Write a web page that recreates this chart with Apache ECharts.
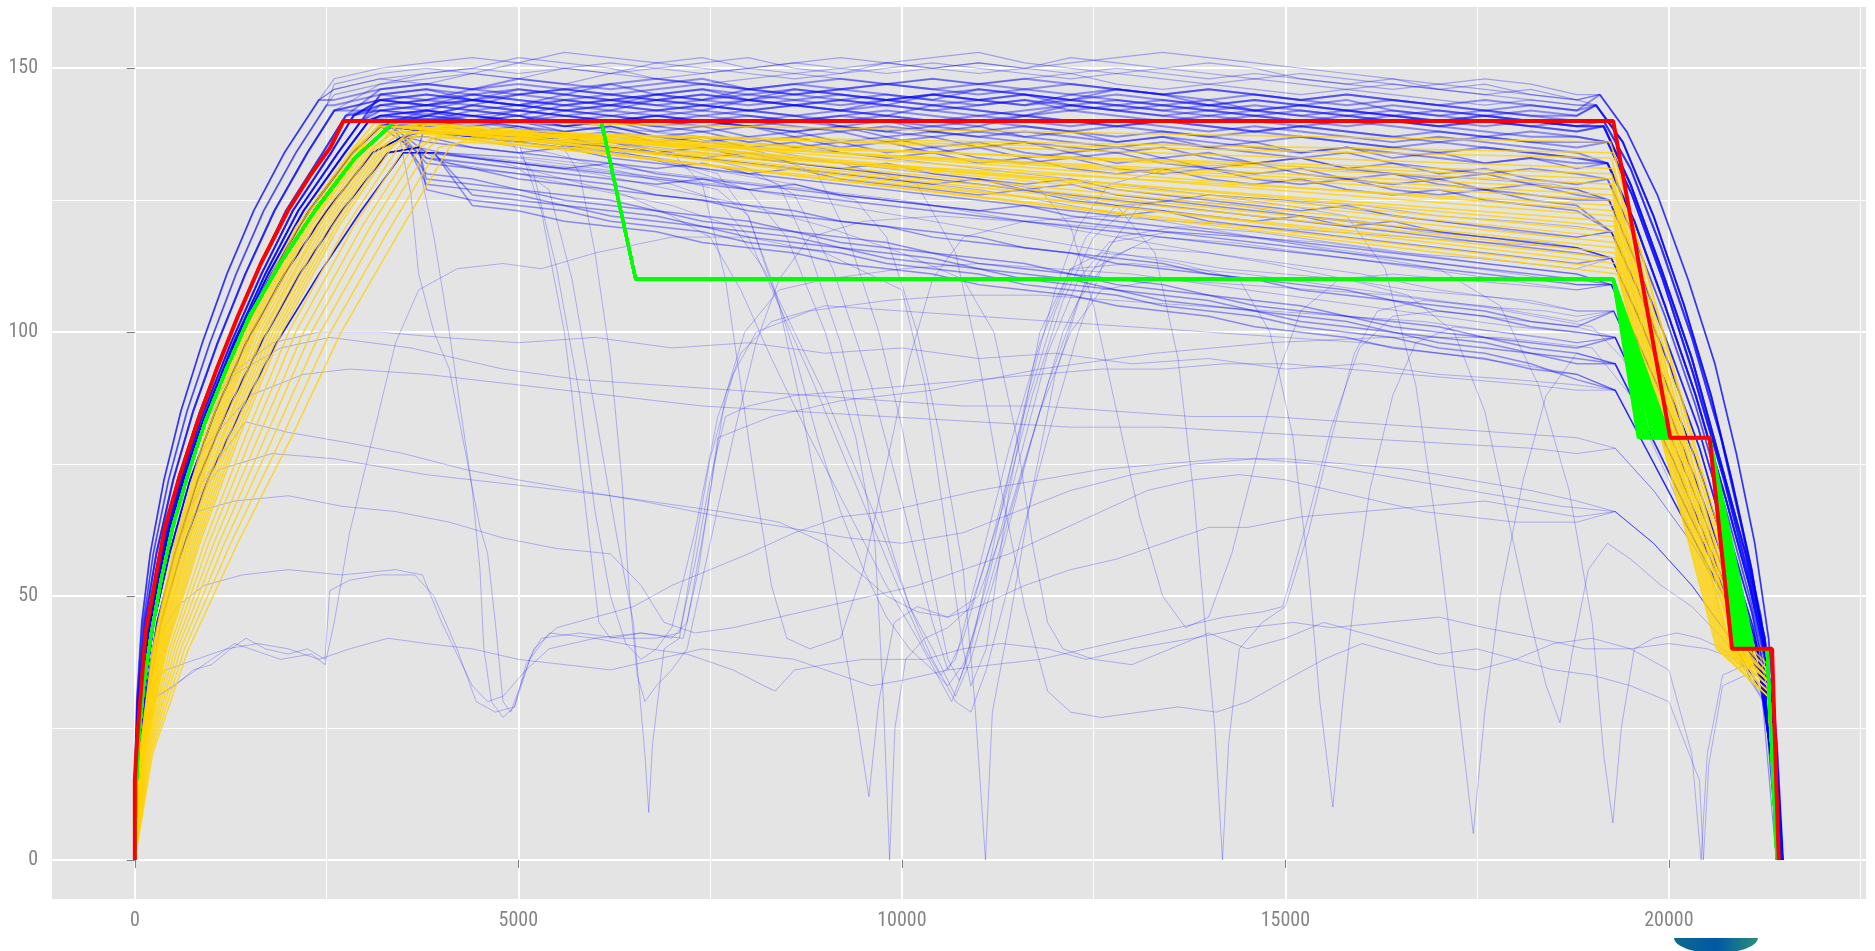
<!DOCTYPE html>
<html><head><meta charset="utf-8">
<script src="https://cdn.jsdelivr.net/npm/echarts@6/dist/echarts.min.js"></script>
<style>html,body{margin:0;padding:0;background:#fff}#c{width:1875px;height:951px}</style>
</head><body><div id="c"></div><script>
// ---- axis ticks ----
const xTicks = [0, 5000, 10000, 15000, 20000];
const xMinor = [2500, 7500, 12500, 17500, 22500];
const yTicks = [0, 50, 100, 150];
const yMinor = [25, 75, 125];

// ---- red reference profile ----
const redX = [0,0,30,140,266,391,591,817,1067,1343,1643,1994,2300,2550,2720,19274,20017,20531,20823,21345,21432];
const redY = [0,15,23,43,53,63,73,83,93,103,113,123,130,135,140,140,80,80,40,40,0];

// ---- green profiles ----
const greenRise = [[0,0],[15,13],[50,23],[115,33],[215,43],[341,53],[491,63],[691,73],[917,83],[1192,93],[1493,103],[1894,113],[2345,123],[2871,133],[3397,140],[6080,140],[6530,110],[19274,110]];
const greenA = [19600,19635,19672,19710,19745,19790,19830,19868,19905,19942,19980,20013];
const greenB = [20823,20850,20875,20900,20925,20950,20978,21005,21030,21055,21080,21108];
const greenTail = [[20531,80],[21280,40],[21410,0]];

// ---- yellow profiles ----
const yellowRiseY = [20,40,60,80,100,120,135];
const yellowRiseX = [
 [60,230,520,900,1400,2100,2850],[67,249,553,946,1452,2156,2900],[74,268,586,991,1503,2211,2950],
 [80,286,618,1037,1555,2267,3000],[89,310,659,1094,1619,2336,3063],[97,333,700,1151,1684,2406,3125],
 [108,362,750,1219,1761,2489,3200],[118,390,799,1288,1839,2573,3275],[128,418,848,1356,1916,2656,3350],
 [140,451,905,1436,2006,2753,3438],[152,484,963,1516,2097,2851,3525],[165,521,1028,1607,2200,2962,3625],
 [179,559,1094,1698,2303,3073,3725],[194,601,1168,1801,2419,3198,3838],[211,648,1250,1915,2548,3337,3963],
 [230,700,1340,2040,2690,3490,4100],
 [63,239,536,923,1426,2128,2875],[70,258,569,968,1477,2183,2925],[77,277,602,1014,1529,2239,2975],
 [84,296,635,1060,1581,2295,3025],[94,324,684,1128,1658,2378,3100],[103,348,725,1185,1723,2448,3163],
 [113,376,774,1253,1800,2531,3238],[123,404,823,1322,1877,2614,3313]];
const yellowPeak = [[3150,140],[3200,139],[3250,139],[3300,138],[3360,140],[3420,139],[3500,138],[3580,137],[3650,139],[3740,138],[3830,140],[3930,137],[4030,138],[4140,139],[4260,136],[4400,137],
 [3175,139],[3225,140],[3275,138],[3330,139],[3400,138],[3460,140],[3540,139],[3610,138]];
const yellowKnee = [[19280,122],[19260,128],[19300,115],[19250,133],[19290,119],[19270,125],[19320,112],[19250,130],[19300,117],[19280,121],[19240,136],[19310,114],[19270,126],[19290,118],[19280,124],[19330,111],
 [19270,131],[19290,120],[19260,127],[19300,116],[19280,134],[19270,123],[19310,113],[19260,129]];
const yellowX40 = [20820,20930,20700,21020,20780,20880,20620,20990,20740,20800,21080,20680,20900,20760,20850,20640, 20960,20800,20900,20720,21040,20860,20660,20940];
const yellowTailY = [34,35,32,36,33,34,31,35,33,34,37,32,35,33,34,31, 35,33,34,32,36,34,31,35];

// ---- blue: rise shapes (x at each speed level) and fall shapes ----
const riseLevels = [16,30,45,58,72,85,98,111,123,134];
const riseX = [
 [0,25,90,200,380,600,880,1200,1550,1950],
 [1,35,110,240,440,680,980,1320,1680,2100],
 [2,45,130,280,500,760,1080,1440,1820,2250],
 [3,60,155,320,560,850,1200,1580,1970,2450],
 [6,68,170,345,595,900,1255,1650,2060,2560],
 [9,74,185,365,620,930,1290,1700,2130,2650],
 [12,80,198,382,640,950,1310,1740,2200,2740],
 [16,85,210,398,655,960,1330,1780,2270,2840],
 [22,92,228,412,668,968,1342,1810,2340,2930],
 [30,105,250,450,720,1050,1450,1950,2500,3100],
 [40,130,290,520,820,1200,1650,2150,2700,3300],
 [50,160,340,600,950,1380,1850,2400,2950,3500]];
const riseEnd = [[2400,144],[2500,143],[2600,142],[2750,141],[2850,141],[2950,140],[3050,140],[3200,139],[3350,139],[3500,137],[3700,135],[3900,134]];
const blueFall = [
 [[19100,145],[19450,138],[19850,126],[20250,110],[20600,94],[20880,77],[21120,60],[21300,42],[21410,22],[21490,0]],
 [[19050,143],[19400,136],[19800,122],[20200,105],[20550,88],[20820,72],[21080,55],[21270,38],[21400,18],[21480,0]],
 [[19150,140],[19500,131],[19900,116],[20300,99],[20680,80],[20950,63],[21200,46],[21350,28],[21440,10],[21475,0]],
 [[19150,139],[19500,128],[19900,112],[20300,95],[20700,74],[21000,58],[21250,42],[21380,25],[21450,8],[21480,0]],
 [[19200,136],[19520,126],[19920,110],[20320,92],[20720,72],[21020,55],[21260,40],[21390,22],[21465,0]],
 [[19200,132],[19550,121],[19950,105],[20350,88],[20750,68],[21050,52],[21280,37],[21400,18],[21470,0]],
 [[19200,129],[19550,118],[19950,103],[20350,86],[20750,66],[21050,50],[21280,36],[21400,18],[21470,0]],
 [[19220,125],[19580,113],[19980,98],[20380,82],[20780,62],[21080,47],[21290,33],[21405,15],[21465,0]],
 [[19250,119],[19600,108],[20000,94],[20400,78],[20800,58],[21100,44],[21300,30],[21410,12],[21460,0]],
 [[19250,114],[19600,103],[20000,89],[20400,74],[20800,56],[21120,42],[21320,27],[21430,0]],
 [[19250,109],[19600,98],[20000,85],[20400,70],[20800,53],[21150,40],[21330,24],[21440,0]],
 [[19280,104],[19630,93],[20030,80],[20430,66],[20830,50],[21170,38],[21340,21],[21435,0]],
 [[19300,99],[19650,88],[20050,76],[20450,62],[20850,48],[21180,36],[21350,18],[21430,0]],
 [[19300,94],[19680,83],[20080,71],[20480,59],[20880,46],[21190,35],[21355,17],[21425,0]],
 [[19300,89],[19700,78],[20100,67],[20500,56],[20900,45],[21200,34],[21360,16],[21420,0]],
 [[19300,78],[19800,70],[20300,60],[20800,48],[21200,36],[21380,16],[21440,0]],
 [[19300,66],[19800,60],[20300,52],[20800,42],[21200,32],[21380,15],[21440,0]]];

// ---- blue: main band trips ----
const bandX = [2600,3200,3800,4400,5000,5600,6200,6800,7400,8000,8600,9200,9800,10400,11000,11600,12200,12800,13400,14000,14600,15200,15800,16400,17000,17600,18200,18800];
const bandRise = [3,1,5,0,4,1,6,2,0,7, 0,1,2,0, 6,5,8,7,9,4,10,6, 7,9,8,11,9,7,10,8, 9,10,11,8,11,9,10,7, 3,4,5,6,2,7,3,8,4,5,6,2];
const bandFall = [3,2,3,1,4,1,4,3,0,5, 0,0,1,1, 6,7,7,7,8,5,8,6, 8,9,9,10,9,9,10,10, 12,13,13,12,14,13,14,11, 3,2,1,4,2,4,0,5,3,1,5,5];
const bandYs = [
 [141,143,144,143,145,144,143,145,144,146,145,144,143,145,144,143,145,144,143,144,142,143,142,141,142,141,140,139],
 [143,145,146,144,146,145,147,145,146,144,145,146,145,144,146,145,144,146,145,143,144,143,144,142,141,142,141,140],
 [140,142,143,142,141,143,142,144,143,142,143,142,144,143,142,141,143,142,141,142,141,140,141,140,139,140,139,138],
 [144,146,147,146,148,147,146,147,148,146,147,148,147,146,147,148,147,146,145,146,145,144,145,144,143,142,143,142],
 [142,144,143,145,144,143,144,143,142,144,143,142,141,143,142,141,142,141,140,141,140,139,140,139,138,137,138,137],
 [145,147,148,149,148,147,149,148,147,148,149,148,147,148,147,148,149,147,146,147,146,145,146,145,144,143,144,143],
 [139,141,142,141,140,142,141,140,141,142,141,140,141,140,139,141,140,139,140,139,138,139,138,137,136,137,136,135],
 [143,144,145,144,145,146,145,144,145,144,146,145,144,145,144,145,144,143,144,143,142,143,142,141,140,141,140,139],
 [146,148,149,150,149,150,151,150,149,150,151,150,149,150,151,150,149,150,149,148,149,148,147,146,147,146,145,144],
 [141,142,141,143,142,141,142,141,140,141,140,141,140,139,140,139,138,139,138,137,138,137,136,135,136,135,134,133],
 [148,150,151,152,151,153,152,151,152,150,151,152,151,150,151,150,151,152,153,152,151,150,149,148,147,148,147,145],
 [147,149,150,149,151,150,149,150,151,152,150,149,151,152,153,151,150,149,150,149,148,149,148,147,146,145,146,144],
 [145,147,149,150,152,151,150,148,149,150,149,150,151,150,149,150,152,151,150,151,150,148,147,148,146,147,145,144],
 [146,148,147,149,148,150,149,151,150,149,148,149,150,151,150,149,148,149,148,147,148,147,146,147,146,145,144,143],
 [140,141,142,141,140,141,140,139,140,139,138,139,138,137,138,137,136,135,136,135,134,133,134,132,131,130,131,130],
 [142,143,142,141,142,141,140,141,140,139,138,139,137,138,137,136,135,134,135,133,132,133,131,130,129,130,128,127],
 [138,140,139,140,139,138,139,137,138,136,137,135,136,134,135,133,134,132,133,131,130,131,129,128,129,127,126,125],
 [141,142,141,140,141,139,140,138,139,137,138,136,137,135,136,134,133,134,132,131,132,130,129,130,128,127,128,126],
 [139,141,140,139,140,138,139,137,136,137,135,136,134,135,133,132,133,131,130,131,129,128,129,127,126,127,125,124],
 [143,144,143,142,143,142,141,142,141,140,141,139,140,138,139,137,138,136,137,135,136,134,135,133,134,132,133,131],
 [140,139,140,138,139,137,138,136,137,135,136,134,133,134,132,133,131,130,131,129,128,129,127,126,127,125,124,123],
 [142,141,142,140,141,139,140,139,138,139,137,138,136,137,135,136,134,135,133,134,132,133,131,132,130,131,129,128],
 [138,139,138,137,136,137,135,134,135,133,132,131,132,130,129,128,129,127,126,125,124,123,124,122,121,120,119,118],
 [136,137,136,135,134,135,133,132,131,130,131,129,128,127,126,127,125,124,123,122,121,122,120,119,118,117,116,115],
 [139,140,138,137,138,136,135,134,133,134,132,131,130,129,128,127,128,126,125,124,123,122,121,120,119,118,117,116],
 [135,136,134,133,132,131,132,130,129,128,127,126,125,124,123,124,122,121,120,119,118,117,116,115,114,113,112,111],
 [137,138,137,135,134,133,132,131,132,130,129,128,127,126,125,124,123,122,123,121,120,119,118,117,116,115,114,113],
 [140,139,138,137,136,135,136,134,133,132,131,130,129,128,129,127,126,125,124,123,122,121,120,121,119,118,117,116],
 [134,135,133,132,131,130,129,128,129,127,126,125,124,123,122,121,120,119,118,117,116,115,114,113,112,111,110,109],
 [136,135,134,133,132,131,130,129,128,127,128,126,125,124,123,122,121,120,119,118,117,116,115,114,113,112,111,110],
 [134,133,132,131,129,128,127,126,125,123,122,121,120,118,117,116,115,113,112,111,110,108,107,106,104,103,101,100],
 [132,131,129,128,127,125,124,123,121,120,119,117,116,115,113,112,111,109,108,107,105,104,103,101,100,99,97,96],
 [130,129,128,126,125,124,122,121,120,118,117,116,114,113,112,110,109,108,106,105,104,102,101,100,98,97,96,94],
 [133,131,130,129,127,126,125,123,122,121,119,118,117,115,114,113,111,110,109,107,106,105,103,102,101,99,98,97],
 [128,127,125,124,123,121,120,119,117,116,115,113,112,111,109,108,107,105,104,103,101,100,99,97,96,95,93,92],
 [131,130,128,127,126,124,123,122,120,119,118,116,115,114,112,111,110,108,107,106,104,103,102,100,99,98,96,95],
 [129,128,127,125,124,123,121,120,119,117,116,115,113,112,111,109,108,107,105,104,103,101,100,99,97,96,94,91],
 [135,134,133,131,130,129,128,126,125,124,123,121,120,119,118,116,115,114,113,111,110,109,108,106,105,104,102,101],
 [140,142,141,143,142,144,143,142,143,144,143,142,143,142,143,144,142,143,142,141,142,141,140,141,140,139,140,139],
 [142,143,144,145,144,143,144,145,144,143,144,145,144,143,144,145,143,144,143,142,143,142,141,142,141,140,139,140],
 [144,145,144,146,145,146,145,146,147,146,145,146,147,146,145,146,145,146,145,144,145,144,143,144,143,142,141,141],
 [139,140,141,140,142,141,140,141,142,141,140,141,142,141,140,141,140,139,140,139,138,139,138,137,138,137,136,136],
 [143,144,143,144,143,145,144,143,144,145,144,143,144,145,144,143,144,143,142,143,142,141,142,141,140,141,140,139],
 [141,143,142,144,143,142,143,144,143,142,143,144,143,142,141,142,143,142,141,140,141,140,139,140,139,138,137,137],
 [145,146,147,146,147,146,147,148,147,146,147,146,147,148,147,146,147,146,145,146,145,144,145,144,143,144,143,142],
 [140,141,140,141,140,139,140,141,140,139,140,139,138,139,138,139,138,137,138,137,136,137,136,135,134,135,134,133],
 [142,144,145,144,143,144,145,144,145,144,143,144,145,144,143,144,143,142,143,142,141,142,141,140,139,140,139,138],
 [144,145,146,145,146,145,144,145,146,145,146,145,144,145,146,145,144,145,144,143,144,143,142,143,142,141,142,141],
 [139,141,140,142,141,140,141,140,139,140,139,138,139,138,137,138,137,136,137,136,135,134,135,134,133,132,133,132],
 [143,142,143,144,143,142,143,142,143,142,141,142,141,140,141,140,139,140,139,138,139,138,137,136,137,136,135,134]];

// ---- blue: trips with slowdowns / stops ----
const lowRise = [-1,-1,6,9,11,5,8,10,4,9,10,6,8,10,5,8,9,-1,-1,-1,-1,-1,11,8,10,5,9,11,-1,6,8,-1,7,9,-1];
const lowFall = [-1,-1,9,11,10,8,10,11,7,8,10,12,14,12,9,16,14,16,16,15,15,-1,-1,11,12,13,-1,-1,12,-1,11,16,9,10,14];
const lowPts = [
 [[0,0],[30,15],[100,28],[300,31],[520,33],[760,36],[1000,37],[1250,40],[1450,42],[1700,40],[2000,39],[2250,40],[2480,38],[2540,51],[2800,53],[3200,54],[3650,54],[3900,50],[4200,40],[4450,30],[4700,28],[4950,29],[5150,38],[5400,43],[6000,42],[6600,43],[7150,42],[7350,55],[7600,80],[8300,84],[9200,87],[10400,89],[11800,93],[13300,96],[14800,98],[16300,99],[17800,99],[19000,97],[19500,88],[20000,72],[20500,55],[20900,42],[21250,30],[21420,0]],
 [[0,0],[40,18],[120,30],[400,32],[700,35],[1000,38],[1300,41],[1500,40],[1900,38],[2300,39],[2480,37],[2600,45],[2800,62],[3100,80],[3400,98],[3700,108],[4200,112],[4800,113],[5300,112],[6000,115],[7000,118],[8000,118],[9000,115],[10000,108],[10300,90],[10600,60],[10800,40],[10900,33],[11100,40],[11400,70],[11800,100],[12200,112],[13000,113],[14500,111],[16000,108],[17500,105],[19000,101],[19400,95],[19900,80],[20400,62],[20850,46],[21200,34],[21400,0]],
 [[3400,141],[4200,140],[5000,139],[5800,137],[6600,135],[7400,133],[8000,131],[8600,126],[9100,112],[9600,90],[10000,68],[10400,45],[10600,36],[10800,42],[11200,62],[11600,85],[12000,104],[12400,118],[12800,124],[13600,125],[14400,124],[15200,122],[16000,121],[16800,119],[17600,118],[18400,117],[18800,116]],
 [[3800,138],[4600,136],[5400,134],[6200,131],[7000,128],[7600,125],[8000,118],[8400,105],[8800,92],[9200,78],[9600,64],[10000,50],[10300,40],[10500,35],[10700,38],[11000,55],[11400,78],[11800,98],[12200,112],[12600,115],[13400,114],[14200,112],[15000,111],[15800,110],[16600,108],[17400,107],[18200,106],[18800,104]],
 [[4000,134],[4800,132],[5600,129],[6400,126],[7000,122],[7500,118],[7900,108],[8300,95],[8800,80],[9300,66],[9800,52],[10200,42],[10500,34],[10650,30],[10800,36],[11100,52],[11500,74],[11900,96],[12300,110],[12700,117],[13500,119],[14500,118],[15500,116],[16500,114],[17500,112],[18500,110],[18800,109]],
 [[3300,141],[4000,140],[4800,139],[5600,137],[6400,134],[7200,131],[8000,127],[8500,118],[9000,100],[9400,80],[9650,60],[9760,30],[9840,0],[9910,25],[10050,38],[10300,42],[10600,44],[10900,48],[11300,66],[11700,88],[12100,106],[12500,118],[13000,124],[14000,126],[15000,125],[16000,124],[17000,122],[18000,121],[18800,120]],
 [[3800,138],[5000,136],[6200,134],[7400,131],[8600,128],[9400,125],[9800,118],[10200,100],[10500,80],[10800,55],[10950,30],[11090,0],[11180,28],[11400,45],[11700,70],[12000,92],[12400,110],[12800,118],[13600,120],[14600,119],[15600,117],[16600,115],[17600,113],[18800,111]],
 [[4100,132],[5000,130],[6000,127],[7000,124],[7800,120],[8200,112],[8600,100],[9000,88],[9400,74],[9800,60],[10100,48],[10400,40],[10600,34],[10700,31],[10900,38],[11300,58],[11700,80],[12100,100],[12500,112],[13000,116],[14000,115],[15000,113],[16000,111],[17000,108],[18000,106],[18800,104]],
 [[3200,142],[4200,141],[5200,140],[6200,139],[7200,137],[8200,134],[8900,130],[9300,118],[9700,100],[10000,82],[10300,60],[10500,45],[10600,38],[10750,34],[10900,40],[11200,60],[11600,86],[12000,108],[12300,120],[12700,128],[13500,131],[14500,132],[15500,131],[16500,130],[17500,129],[18500,128],[18800,127]],
 [[3800,138],[4800,137],[5800,135],[6800,133],[7800,131],[8400,128],[8800,115],[9200,98],[9500,80],[9800,62],[10100,48],[10400,38],[10700,30],[10900,28],[11100,36],[11500,58],[11900,80],[12300,100],[12700,116],[13100,124],[14000,126],[15000,125],[16000,123],[17000,121],[18000,119],[18800,118]],
 [[4000,134],[5000,133],[6000,131],[7000,129],[7600,127],[8000,122],[8300,110],[8600,96],[8900,80],[9200,66],[9500,55],[9800,46],[10100,40],[10400,36],[10600,33],[10800,37],[11100,50],[11500,70],[11900,90],[12300,106],[12700,114],[13300,118],[14300,117],[15300,115],[16300,113],[17300,111],[18300,109],[18800,108]],
 [[3300,141],[4000,140],[4600,139],[5000,136],[5300,123],[5600,100],[5850,70],[6050,45],[6200,42],[6600,43],[7000,42],[7200,45],[7450,65],[7700,88],[7950,100],[8400,108],[9000,110],[10000,112],[11000,113],[12000,112],[13000,111],[14000,109],[15000,107],[16000,105],[17000,103],[18000,101],[18800,100]],
 [[3800,138],[4400,137],[4900,136],[5200,130],[5500,112],[5800,88],[6000,66],[6200,50],[6400,41],[6600,38],[6800,40],[7000,44],[7300,62],[7600,84],[7900,96],[8300,102],[9000,105],[10000,104],[11000,103],[12000,102],[13000,101],[14000,100],[15000,99],[16000,98],[17000,96],[18000,94],[18800,92]],
 [[3900,133],[4500,132],[5000,131],[5400,127],[5700,110],[6000,85],[6300,60],[6500,45],[6650,20],[6700,9],[6750,22],[6900,40],[7100,42],[7250,55],[7500,76],[7800,92],[8100,100],[8800,104],[9800,106],[10800,107],[11800,107],[12800,106],[13800,105],[14800,104],[15800,103],[16800,102],[17800,100],[18800,98]],
 [[3200,142],[3900,141],[4500,140],[5000,139],[5500,137],[5800,130],[6000,115],[6200,95],[6350,72],[6450,50],[6550,35],[6650,30],[6800,33],[7000,36],[7200,40],[7500,60],[7800,80],[8100,98],[8400,110],[8800,118],[9500,121],[10500,122],[11500,121],[12500,120],[13500,119],[14500,118],[15500,117],[16500,115],[17500,114],[18800,112]],
 [[3450,137],[3600,126],[3700,111],[3900,100],[4100,93],[4300,78],[4500,63],[4600,58],[4700,45],[4800,30],[4900,28],[5000,32],[5200,40],[5500,44],[6000,46],[6500,48],[7000,52],[7500,55],[8000,58],[8600,62],[9200,65],[9800,66],[10400,68],[11000,70],[11800,72],[12600,74],[13400,75],[14200,76],[15000,76],[15800,75],[16600,74],[17400,72],[18200,70],[18800,68]],
 [[3700,132],[3900,118],[4100,100],[4250,85],[4400,70],[4500,55],[4550,40],[4650,30],[4800,27],[4950,29],[5100,37],[5300,42],[5800,43],[6300,42],[6800,42],[7100,43],[7300,56],[7500,72],[7700,84],[8000,86],[8600,88],[9400,89],[10200,90],[11000,91],[11800,92],[12600,93],[13400,93],[14200,94],[15000,94],[15800,93],[16600,92],[17400,91],[18200,90],[18800,89]],
 [[0,0],[50,20],[200,42],[500,60],[900,72],[1440,83],[2000,81],[2795,79],[3500,77],[4300,74],[5000,72],[5800,70],[6600,68],[7645,65],[8500,63],[9300,61],[10000,60],[10800,62],[11500,66],[12200,70],[13000,73],[13800,75],[14600,76],[15400,75],[16200,73],[17000,71],[17800,69],[18600,67]],
 [[0,0],[60,22],[250,48],[600,65],[1100,74],[1790,77],[2600,76],[3800,73],[5000,71],[6200,69],[7645,66],[8400,64],[9000,60],[9400,55],[9800,50],[10200,47],[10600,46],[11000,48],[11600,52],[12200,55],[12800,57],[13400,60],[14000,63],[14510,63],[15200,65],[16000,66],[16800,67],[17600,68],[18400,66],[18800,65]],
 [[0,0],[40,18],[150,40],[400,62],[800,80],[1300,92],[1900,97],[2545,99],[3600,97],[4800,93],[5800,91],[6800,90],[7800,89],[8800,88],[9800,87],[10800,86],[11800,86],[12800,85],[13800,84],[14800,84],[15800,83],[16800,82],[17800,81],[18800,80]],
 [[0,0],[50,20],[180,42],[450,62],[900,78],[1500,88],[2200,92],[2800,93],[3800,92],[5000,90],[6200,88],[7400,86],[8600,85],[9800,84],[11000,83],[12200,82],[13400,82],[14600,81],[15800,80],[17000,79],[18200,78],[18800,77]],
 [[0,0],[40,20],[130,35],[300,42],[550,48],[900,52],[1400,54],[2000,55],[2700,54],[3400,55],[3750,54],[4000,45],[4400,33],[4600,30],[4800,31],[5100,36],[5400,40],[6000,42],[6700,40],[7200,39],[7800,36],[8200,33],[8350,32],[8600,36],[9000,37],[9500,38],[9900,38],[10300,38],[10800,40],[11300,41],[11900,40],[12400,38],[13000,40],[13800,42],[14500,44],[15100,45],[15600,44],[16300,45],[17000,46],[17600,44],[18300,42],[18900,40],[19500,40],[20000,41],[20500,40],[20900,38],[21200,33],[21400,0]],
 [[4000,134],[5000,132],[6000,130],[7000,127],[8000,124],[9000,120],[10000,115],[10800,110],[11200,100],[11500,80],[11700,60],[11900,45],[12100,40],[12500,38],[13000,37],[13500,40],[14000,43],[14500,40],[15000,42],[15500,45],[16000,43],[16500,41],[17000,39],[17500,40],[18000,38],[18500,36],[19000,35],[19500,33],[20000,30],[20400,15],[20450,0],[20520,18],[20700,33],[21000,35],[21250,30],[21420,0]],
 [[3800,138],[5000,137],[6200,136],[7400,134],[8600,132],[9800,130],[11000,128],[12000,126],[12800,124],[13300,115],[13600,95],[13800,70],[13950,45],[14080,25],[14180,0],[14260,22],[14400,40],[14700,45],[15000,48],[15300,62],[15600,80],[15900,96],[16200,104],[16800,106],[17600,105],[18400,103],[18800,102]],
 [[4000,134],[5200,132],[6400,130],[7600,128],[8800,125],[10000,122],[11200,119],[12400,116],[13600,113],[14400,110],[14800,100],[15100,80],[15300,55],[15450,30],[15620,10],[15750,30],[15900,50],[16100,70],[16400,88],[16700,98],[17200,101],[17800,100],[18400,99],[18800,98]],
 [[3200,141],[4400,140],[5600,139],[6800,138],[8000,136],[9200,134],[10400,132],[11600,130],[12800,128],[14000,126],[15000,124],[15800,122],[16300,112],[16700,90],[17000,60],[17250,30],[17450,5],[17600,28],[17800,50],[18100,72],[18400,88],[18800,96]],
 [[3800,138],[5000,137],[6200,135],[7400,133],[8600,131],[9800,129],[11000,127],[12200,124],[13400,121],[14600,118],[15800,115],[17000,112],[17800,105],[18300,90],[18700,70],[19000,45],[19150,20],[19270,7],[19380,25],[19550,40],[19800,42],[20100,43],[20400,42],[20700,40],[21000,36],[21250,30],[21420,0]],
 [[4000,134],[5200,133],[6400,131],[7600,129],[8800,127],[10000,125],[11200,122],[12400,119],[13600,116],[14800,113],[15800,110],[16600,107],[17200,100],[17600,85],[17900,65],[18200,45],[18400,33],[18580,26],[18750,40],[18950,55],[19200,60],[19500,57],[19900,52],[20300,48],[20700,42],[21000,36],[21300,28],[21430,0]],
 [[0,0],[40,18],[130,32],[400,36],[800,38],[1200,40],[1600,41],[2000,40],[2400,38],[2800,40],[3300,42],[3800,41],[4400,40],[5000,38],[5600,37],[6200,36],[6800,38],[7400,40],[8000,39],[8600,38],[9200,35],[9600,33],[10000,34],[10600,36],[11200,37],[11800,38],[12400,40],[13000,42],[13600,44],[14200,46],[14700,47],[14965,48],[15300,65],[15600,82],[15966,97],[16400,103],[17000,104],[17600,103],[18200,102],[18800,101]],
 [[3200,142],[4400,141],[5600,139],[6800,137],[8000,135],[9200,132],[10200,128],[10700,115],[11000,95],[11300,70],[11600,48],[11900,32],[12200,28],[12600,27],[13100,28],[13600,29],[14100,28],[14510,30],[15000,34],[15500,38],[16000,41],[16500,39],[17000,37],[17500,36],[18000,38],[18500,41],[19000,42],[19500,40],[20000,36],[20300,20],[20420,0],[20500,20],[20700,35],[21000,37],[21250,31],[21420,0]],
 [[3800,138],[4800,137],[5800,135],[6800,133],[7600,130],[8000,122],[8400,105],[8700,85],[9000,62],[9200,45],[9400,28],[9570,12],[9700,30],[9900,45],[10200,48],[10600,46],[11000,50],[11400,66],[11800,85],[12200,100],[12600,108],[13400,110],[14400,109],[15400,108],[16400,107],[17400,105],[18400,104],[18800,103]],
 [[0,0],[45,20],[170,40],[420,58],[800,66],[1300,68],[2000,69],[2700,67],[3400,66],[4100,64],[4800,61],[5500,59],[6200,58],[6600,52],[6900,45],[7300,43],[7800,44],[8400,46],[9000,48],[9600,50],[10200,52],[10800,55],[11400,58],[12000,62],[12600,66],[13200,70],[13800,72],[14400,73],[15000,72],[15600,70],[16200,68],[16800,66],[17400,65],[18000,64],[18800,64]],
 [[3300,141],[4300,140],[5300,138],[6300,136],[7000,134],[7400,128],[7700,110],[7900,90],[8100,70],[8300,52],[8500,42],[8800,40],[9200,42],[9500,55],[9800,75],[10100,95],[10400,110],[10800,118],[11600,121],[12600,122],[13600,121],[14600,120],[15600,119],[16600,118],[17600,117],[18800,116]],
 [[3800,139],[5000,138],[6200,137],[7400,135],[8600,133],[9800,131],[11000,129],[11800,127],[12200,120],[12500,105],[12800,85],[13100,65],[13400,50],[13700,44],[14000,46],[14300,58],[14600,75],[14900,92],[15200,104],[15700,110],[16400,111],[17200,110],[18000,109],[18800,108]],
 [[0,0],[35,18],[140,40],[380,62],[760,80],[1250,92],[1800,98],[2400,100],[3200,100],[4000,99],[5000,98],[6000,99],[7000,97],[8000,98],[9000,96],[10000,97],[11000,95],[12000,96],[13000,94],[14000,95],[15000,93],[16000,94],[17000,92],[18000,91],[18800,90]]];

// ---------- build series ----------
const FONT = "'Roboto Condensed','Liberation Sans',sans-serif";
const series = [];
function lineSeries(data, color, width, opacity) {
  return { type: 'line', data: data, showSymbol: false, symbol: 'none', silent: true,
    animation: false, clip: true, lineStyle: { color: color, width: width, opacity: opacity },
    emphasis: { disabled: true } };
}
function risePts(k) {
  const pts = [[0, 0]];
  riseX[k].forEach((x, j) => pts.push([x, riseLevels[j]]));
  pts.push(riseEnd[k]);
  return pts;
}
// blue band trips
bandYs.forEach((ys, i) => {
  const pts = risePts(bandRise[i]);
  const lastX = pts[pts.length - 1][0];
  bandX.forEach((x, j) => { if (x > lastX && ys[j] != null) pts.push([x, ys[j]]); });
  blueFall[bandFall[i]].forEach(p => pts.push(p));
  const high = (i === 5 || i === 8 || (i >= 10 && i <= 13));
  const top = (i < 14 || i >= 38);
  const w = high ? 1.2 : (top ? 2 : (i < 22 ? 1.7 : 1.5));
  series.push(lineSeries(pts, '#0000ff', w, high ? 0.3 : 0.4));
});
// blue other trips
lowPts.forEach((p, i) => {
  let pts = [];
  if (lowRise[i] >= 0) pts = risePts(lowRise[i]);
  p.forEach(q => pts.push(q));
  if (lowFall[i] >= 0) blueFall[lowFall[i]].forEach(q => pts.push(q));
  series.push(lineSeries(pts, '#0000ff', 1, 0.25));
});
// yellow
yellowRiseX.forEach((rx, i) => {
  const pts = [[0, 0]];
  rx.forEach((x, j) => pts.push([x, yellowRiseY[j]]));
  pts.push(yellowPeak[i]);
  pts.push(yellowKnee[i]);
  pts.push([yellowX40[i], 40]);
  pts.push([21290, yellowTailY[i]]);
  pts.push([21420, 0]);
  series.push(lineSeries(pts, '#ffd200', 1.5, 0.8));
});
// green
greenA.forEach((a, i) => {
  const pts = greenRise.slice();
  pts.push([a, 80]);
  pts.push(greenTail[0]);
  pts.push([greenB[i], 40]);
  pts.push(greenTail[1]);
  pts.push(greenTail[2]);
  series.push(lineSeries(pts, '#00ff00', 3, 1));
});
// red
series.push(lineSeries(redX.map((x, i) => [x, redY[i]]), '#ff0000', 4, 1));

const labelStyle = { color: '#858585', fontFamily: FONT, fontSize: 20 };
const chart = echarts.init(document.getElementById('c'), null, { renderer: 'canvas' });
chart.setOption({
  backgroundColor: '#ffffff',
  animation: false,
  grid: { left: 52, right: 9, top: 7, bottom: 52, show: true, backgroundColor: '#e4e4e4', borderWidth: 0 },
  xAxis: [
    { type: 'value', min: -1080, max: 22570, position: 'bottom',
      axisLine: { show: false },
      axisTick: { show: true, length: 8, customValues: xTicks, lineStyle: { color: '#7f7f7f', width: 1 } },
      axisLabel: Object.assign({ customValues: xTicks, margin: 12, formatter: v => String(v) }, labelStyle),
      splitLine: { show: true, lineStyle: { color: '#ffffff', width: 1.8 } } },
    { type: 'value', min: -1080, max: 22570, position: 'bottom',
      axisLine: { show: false },
      axisTick: { show: false, customValues: xMinor },
      axisLabel: { show: false, customValues: xMinor },
      splitLine: { show: true, lineStyle: { color: '#ffffff', width: 0.9 } } }
  ],
  yAxis: [
    { type: 'value', min: -7.4, max: 161.6, position: 'left',
      axisLine: { show: false },
      axisTick: { show: true, length: 8, customValues: yTicks, lineStyle: { color: '#7f7f7f', width: 1 } },
      axisLabel: Object.assign({ customValues: yTicks, margin: 14, formatter: v => String(v) }, labelStyle),
      splitLine: { show: true, lineStyle: { color: '#ffffff', width: 1.8 } } },
    { type: 'value', min: -7.4, max: 161.6, position: 'left',
      axisLine: { show: false },
      axisTick: { show: false, customValues: yMinor },
      axisLabel: { show: false, customValues: yMinor },
      splitLine: { show: true, lineStyle: { color: '#ffffff', width: 0.9 } } }
  ],
  series: series,
  graphic: [{
    type: 'sector', x: 1716, y: 938, scaleY: 0.36, silent: true,
    shape: { cx: 0, cy: 0, r: 42, startAngle: 0, endAngle: Math.PI },
    style: { fill: new echarts.graphic.LinearGradient(0, 0, 1, 0, [
      { offset: 0, color: '#0d6a8c' }, { offset: 0.5, color: '#0058a6' }, { offset: 1, color: '#2a8f78' }]) }
  }]
});
</script></body></html>
